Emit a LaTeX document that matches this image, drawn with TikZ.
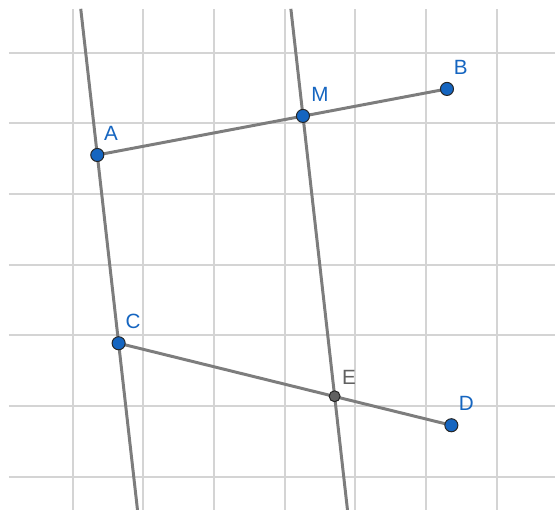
\documentclass[tikz,border=0pt]{standalone}
\usepackage{fontspec}
\setmainfont{Liberation Sans}
\definecolor{pointblue}{RGB}{21,101,192}
\definecolor{linegray}{RGB}{125,125,125}
\definecolor{gridgray}{RGB}{212,212,212}
\definecolor{pointgray}{RGB}{97,97,97}
\usetikzlibrary{positioning,backgrounds}

\begin{document}
\begin{tikzpicture}[
        pt/.style={circle, fill=pointblue, draw=black!85, line width=0.4pt, inner sep=0pt, minimum size=0.185cm},
        ptsmall/.style={pt, fill=pointgray, minimum size=0.155cm},
        lbl/.style={inner sep=0pt, font=\fontsize{8.3}{9}\selectfont, text=pointblue},
        seg/.style={draw=linegray, line width=1.2pt}
    ]
        \useasboundingbox (-1.027,-6.468) rectangle (6.823,0.745);

        \node[pt] (A) at (0.349,-1.447) {};
        \node[pt] (M) at (3.258,-0.895) {};
        \node[pt] (B) at (5.295,-0.513) {};
        \node[pt] (C) at (0.651,-4.11) {};
        \node[ptsmall] (E) at (3.706,-4.86) {};
        \node[pt] (D) at (5.357,-5.27) {};

        % line ends on the border
        \coordinate (ACtop) at (0.115,0.62);
        \coordinate (ACbot) at (0.918,-6.47);
        \coordinate (MEtop) at (3.087,0.62);
        \coordinate (MEbot) at (3.888,-6.47);

        \begin{scope}[on background layer]
            \draw[gridgray, line width=0.8pt, step=1] (-0.9,-6.47) grid (6.83,0.62);
            \draw[seg] (ACtop) -- (ACbot);
            \draw[seg] (MEtop) -- (MEbot);
            \draw[seg] (A.center) -- (B.center);
            \draw[seg] (C.center) -- (D.center);
        \end{scope}

        \node[lbl, above right=0.13cm and 0.02cm of A] (labA) {A};
        \node[lbl, above right=0.13cm and 0.04cm of M] (labM) {M};
        \node[lbl, above right=0.13cm and 0.02cm of B] (labB) {B};
        \node[lbl, above right=0.13cm and 0.02cm of C] (labC) {C};
        \node[lbl, text=pointgray, above right=0.10cm and 0.04cm of E] (labE) {E};
        \node[lbl, above right=0.13cm and 0.03cm of D] (labD) {D};
    \end{tikzpicture}
\end{document}
